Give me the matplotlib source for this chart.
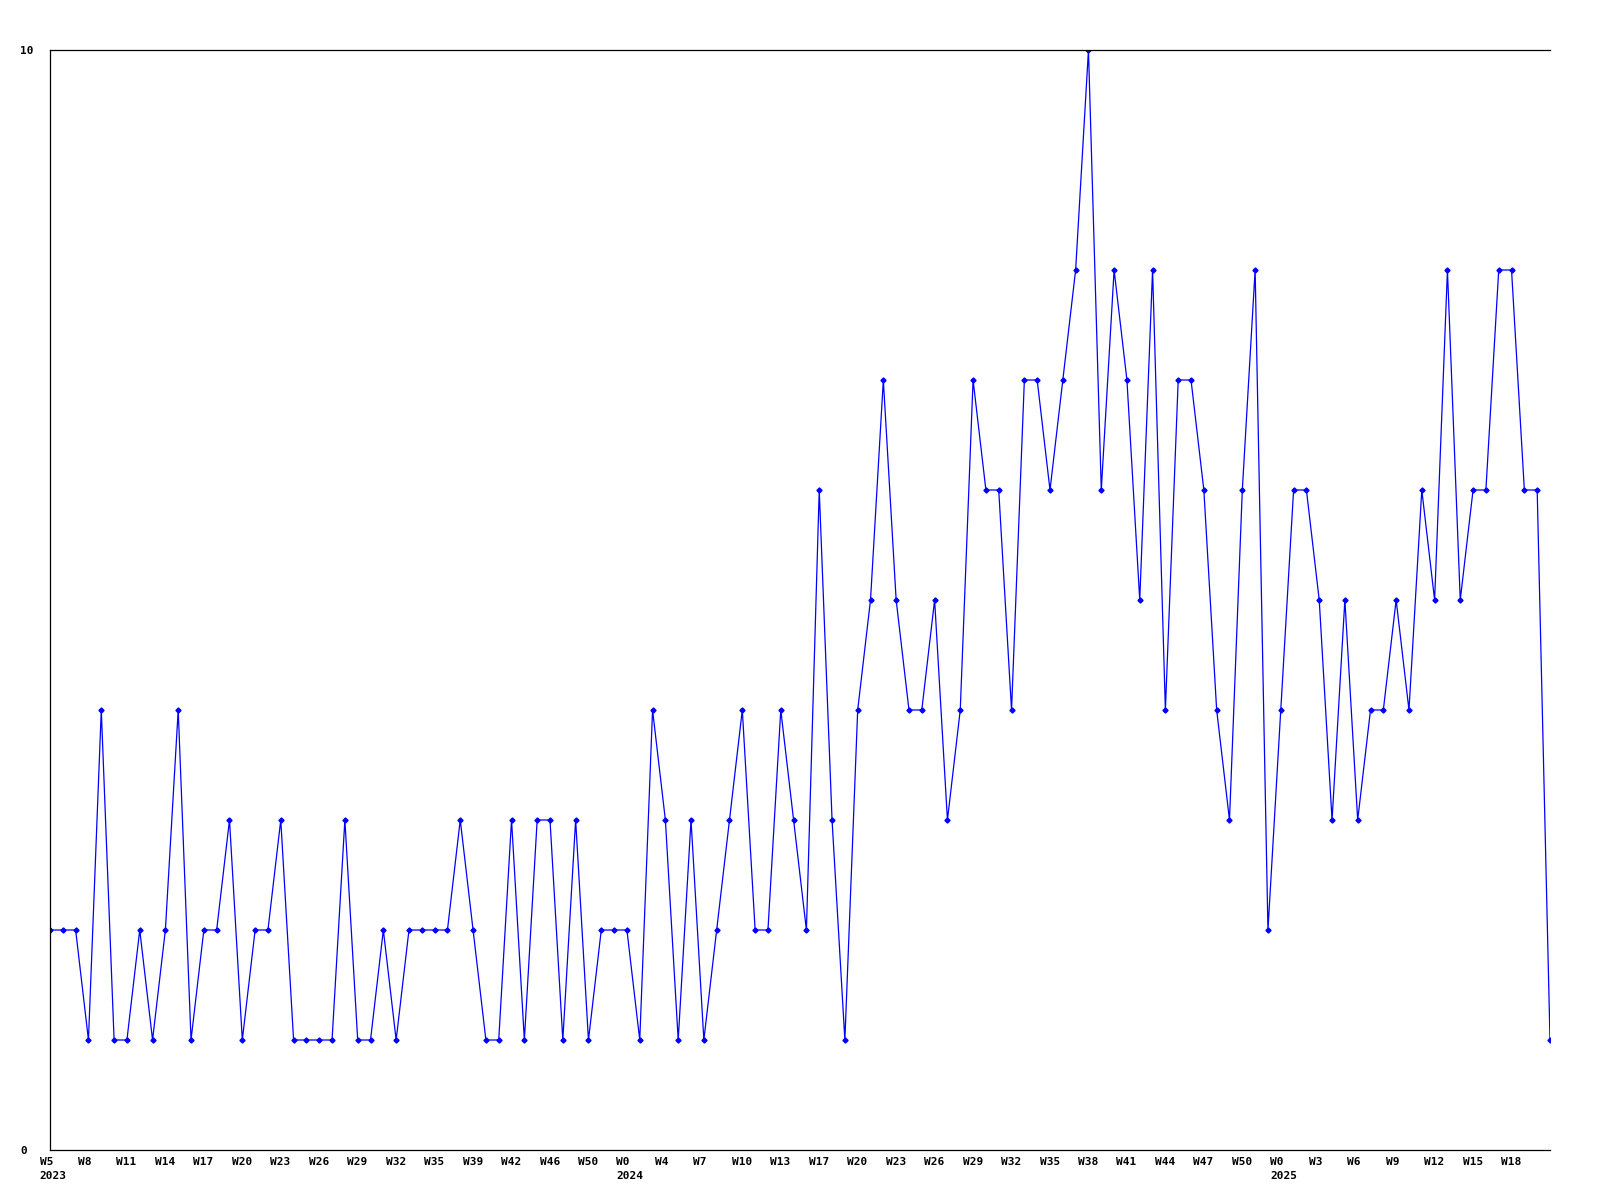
import matplotlib.pyplot as plt
import matplotlib.transforms as mtransforms
import numpy as np

# weekly counts
counts = [2, 2, 2, 1, 4, 1, 1, 2, 1, 2, 4, 1, 2, 2, 3, 1, 2, 2, 3, 1,
          1, 1, 1, 3, 1, 1, 2, 1, 2, 2, 2, 2, 3, 2, 1, 1, 3, 1, 3, 3,
          1, 3, 1, 2, 2, 2, 1, 4, 3, 1, 3, 1, 2, 3, 4, 2, 2, 4, 3, 2,
          6, 3, 1, 4, 5, 7, 5, 4, 4, 5, 3, 4, 7, 6, 6, 4, 7, 7, 6, 7,
          8, 10, 6, 8, 7, 5, 8, 4, 7, 7, 6, 4, 3, 6, 8, 2, 4, 6, 6, 5,
          3, 5, 3, 4, 4, 5, 4, 6, 5, 8, 5, 6, 6, 8, 8, 6, 6, 1]

week_labels = ["W5", "W8", "W11", "W14", "W17", "W20", "W23", "W26", "W29", "W32",
               "W35", "W39", "W42", "W46", "W50",
               "W0", "W4", "W7", "W10", "W13", "W17", "W20", "W23", "W26", "W29",
               "W32", "W35", "W38", "W41", "W44", "W47", "W50",
               "W0", "W3", "W6", "W9", "W12", "W15", "W18"]
year_labels = {0: "2023", 15: "2024", 32: "2025"}

LABEL_STEP = 3  # one label every 3 weeks

x = np.arange(len(counts))

fig = plt.figure(figsize=(16, 12), dpi=100)
ax = fig.add_axes([50 / 1600, 50 / 1200, 1500 / 1600, 1100 / 1200])

ax.plot(x, counts, color="#0000ff", linewidth=0.9, marker="D", markersize=2.6,
        markerfacecolor="#0000ff", markeredgecolor="#0000ff")

ax.set_xlim(0, len(counts) - 1)
ax.set_ylim(0, 10)

ax.spines["right"].set_visible(False)
for s in ["left", "top", "bottom"]:
    ax.spines[s].set_linewidth(0.9)
    ax.spines[s].set_color("black")

font = dict(family="DejaVu Sans Mono", weight="bold", size=8)

# y axis: only 0 and 10
ax.set_yticks([0, 10])
ax.set_yticklabels(["0", "10"], **font)
ax.tick_params(axis="y", length=0, pad=21.6)
for lab in ax.get_yticklabels():
    lab.set_horizontalalignment("left")

# x axis: week labels, year under the first week of each year
ticks = np.arange(len(week_labels)) * LABEL_STEP
labels = []
for i, w in enumerate(week_labels):
    if i in year_labels:
        labels.append(w + "\n" + year_labels[i])
    else:
        labels.append(w)
ax.set_xticks(ticks)
ax.set_xticklabels(labels, linespacing=1.5, **font)
ax.tick_params(axis="x", length=0, pad=5)
offset = mtransforms.ScaledTranslation(-10.5 / 100, 0, fig.dpi_scale_trans)
for lab in ax.get_xticklabels():
    lab.set_horizontalalignment("left")
    lab.set_verticalalignment("top")
    lab.set_transform(lab.get_transform() + offset)

fig.savefig("out.png", dpi=100, facecolor="white")
